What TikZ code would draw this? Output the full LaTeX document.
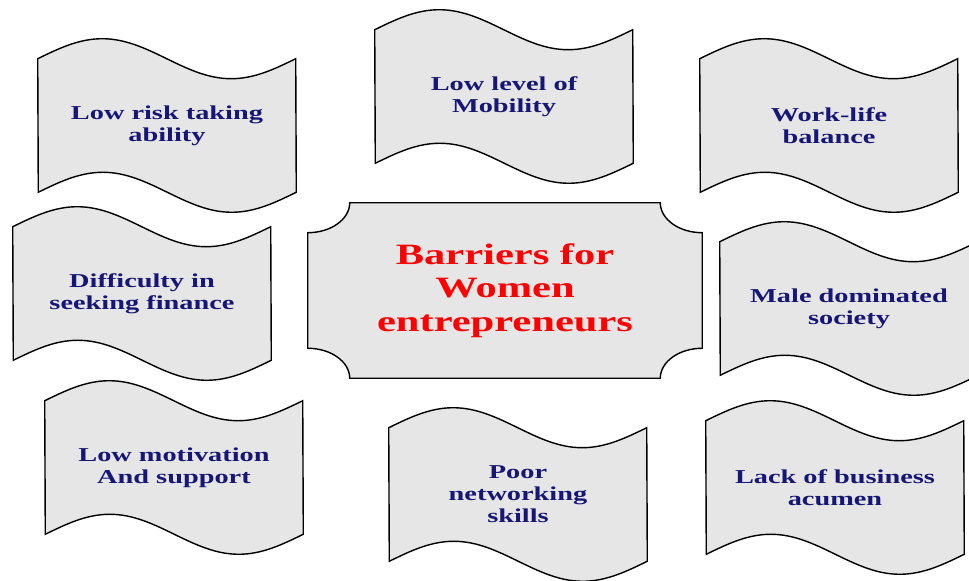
\documentclass[tikz,border=0pt]{standalone}
\usepackage{xcolor}
\usepackage{fontspec}
\usepackage{tikz}
\usetikzlibrary{backgrounds}
\newfontfamily\widebold{Liberation Serif}[FakeStretch=1.44]
\definecolor{flaggray}{RGB}{230,230,230}
\definecolor{barriernavy}{RGB}{22,22,118}
\definecolor{titlered}{RGB}{255,0,0}

\begin{document}
\begin{tikzpicture}[
  outline/.style={draw, line width=1pt, fill=flaggray},
  barrier/.style={minimum width=6.45cm, minimum height=3.325cm,
    inner sep=0pt, align=center, text=barriernavy,
    font=\widebold\bfseries\fontsize{14}{15.6}\selectfont},
  hubtext/.style={align=center, text=titlered,
    minimum width=9.85cm, minimum height=4.375cm, inner sep=0pt,
    font=\widebold\bfseries\fontsize{21}{23.8}\selectfont}]
\useasboundingbox (0,0) rectangle (24.225,14.525);

% the eight barriers
\node[barrier] (risk) at (4.175,11.3875) {Low risk taking\\ability};
\node[barrier] (mobility) at (12.6,12.1125) {Low level of\\Mobility};
\node[barrier] (balance) at (20.725,11.3875) {Work-life\\balance};
\node[barrier] (finance) at (3.55,7.1875) {Difficulty in\\seeking finance};
\node[barrier] (male) at (21.225,6.8125) {Male dominated\\society};
\node[barrier] (motivation) at (4.35,2.8375) {Low motivation\\And support};
\node[barrier] (network) at (12.95,2.1625) {Poor\\networking\\skills};
\node[barrier] (acumen) at (20.875,2.3375) {Lack of business\\acumen};

% centre plaque
\node[hubtext] (hub) at (12.625,7.2625) {Barriers for\\Women\\entrepreneurs};

\begin{scope}[on background layer]
% wavy flags behind the barrier texts
\foreach \n in {risk,mobility,balance,finance,male,motivation,network,acumen}
  \draw[outline] (\n.north west)
    sin ++(1.6125,0.5) cos ++(1.6125,-0.5) sin ++(1.6125,-0.5) cos ++(1.6125,0.5)
    -- (\n.south east)
    sin ++(-1.6125,-0.5) cos ++(-1.6125,0.5) sin ++(-1.6125,0.5) cos ++(-1.6125,-0.5)
    -- cycle;
% plaque with hollow corners
\draw[outline]
  ([xshift=1.05cm]hub.north west) -- ([xshift=-1.05cm]hub.north east)
  arc[start angle=180, end angle=270, x radius=1.05cm, y radius=0.75cm]
  -- ([yshift=0.75cm]hub.south east)
  arc[start angle=90, end angle=180, x radius=1.05cm, y radius=0.75cm]
  -- ([xshift=1.05cm]hub.south west)
  arc[start angle=0, end angle=90, x radius=1.05cm, y radius=0.75cm]
  -- ([yshift=-0.75cm]hub.north west)
  arc[start angle=270, end angle=360, x radius=1.05cm, y radius=0.75cm]
  -- cycle;
\end{scope}
\end{tikzpicture}
\end{document}
